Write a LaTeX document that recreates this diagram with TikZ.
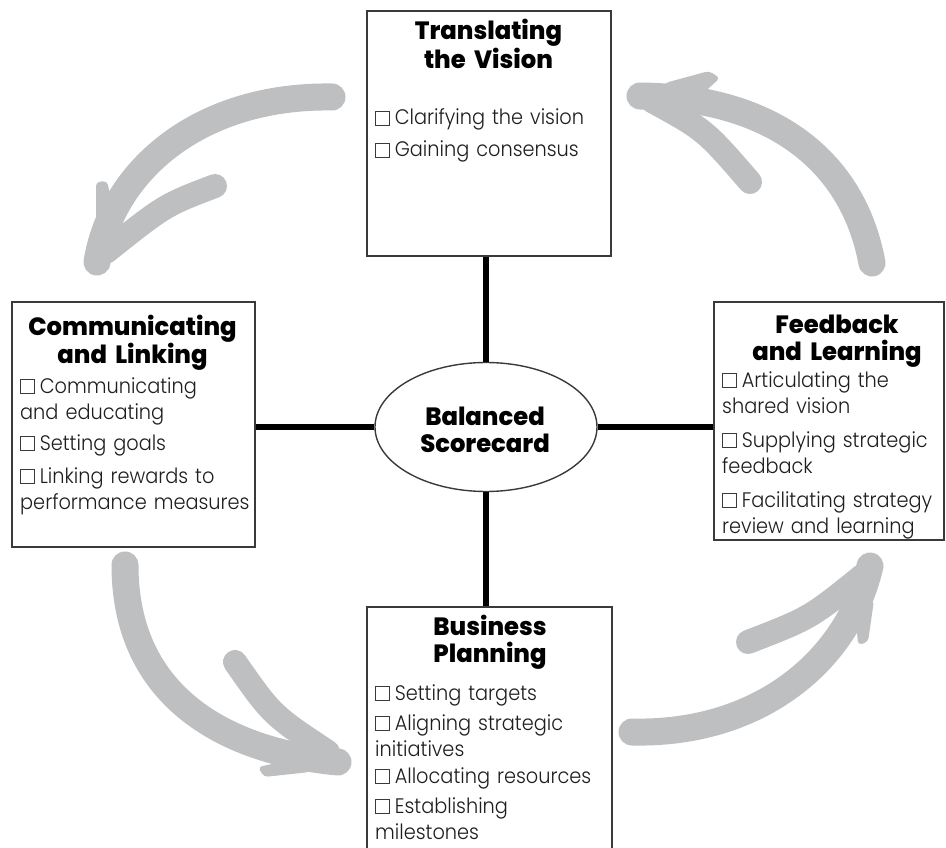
\documentclass[tikz,border=0pt]{standalone}
\usepackage{fontspec}
\usetikzlibrary{shapes.geometric}
\newfontfamily\bodyfont{Poppins Light}[FakeStretch=0.92]
\newfontfamily\headfont{Poppins}[BoldFont={Poppins ExtraBold}, FakeStretch=0.97]
\definecolor{arrowgray}{HTML}{BEBFC1}
\definecolor{framegray}{HTML}{3A3A3A}
\definecolor{inkgray}{HTML}{1E1E1E}
% small open square used as a bullet
\newcommand\tick{\textcolor{framegray}{\setlength\fboxsep{0pt}\setlength\fboxrule{0.8pt}\fbox{\rule{0pt}{13pt}\hspace{13pt}}}\hspace{5pt}}
% keep words whole inside the item texts
\newcommand\nohyph{\hyphenpenalty=10000\relax\exhyphenpenalty=10000\relax}
\begin{document}
\begin{tikzpicture}[x=1pt,y=-1pt,
  frame/.style={draw=framegray, line width=1.4pt, fill=white, rectangle, inner sep=0pt},
  hubshape/.style={draw=framegray, line width=1.4pt, fill=white, ellipse, inner sep=0pt,
                   minimum width=222pt, minimum height=129pt},
  link/.style={line width=6.5pt, draw=black},
  head/.style={font=\headfont\bfseries\fontsize{25}{27}\selectfont, text width=#1,
               align=center, inner sep=0pt, anchor=base},
  item/.style={font=\bodyfont\fontsize{21}{26.5}\selectfont\nohyph,
               text width=#1, align=left, inner sep=0pt, anchor=base west, text=inkgray},
  sweep/.style={draw=arrowgray, line width=27pt, line cap=round},
  barb/.style={draw=arrowgray, line width=24pt, line cap=round},
  spike/.style={fill=arrowgray, rounded corners=4pt},
]
\useasboundingbox (0,0) rectangle (946,848);

% ---- grey cycle arrows ----
% top left
\draw[sweep] (332,97) .. controls (200,95) and (112,170) .. (97,262);
\draw[barb] (215,186) .. controls (165,205) .. (106,252);
\fill[spike] (96,182) -- (107,181) -- (116,220) -- (96,240) -- cycle;
% top right
\draw[sweep] (872,263) .. controls (852,155) and (765,97) .. (640,96);
\draw[barb] (750,182) .. controls (705,130) .. (652,101);
\fill[spike] (709,71) -- (720,78) -- (700,96) -- (660,92) -- (665,83) -- cycle;
% bottom left
\draw[sweep] (125,565) .. controls (125,700) and (230,752) .. (338,762);
\draw[barb] (235,662) .. controls (272,715) .. (328,752);
\fill[spike] (258,767) -- (264,777) -- (310,772) -- (300,758) -- cycle;
% bottom right
\draw[sweep] (632,732) .. controls (760,735) and (848,660) .. (870,566);
\draw[barb] (748,642) .. controls (810,618) .. (862,576);
\fill[spike] (858,645) -- (868,642) -- (874,600) -- (855,605) -- cycle;

% ---- boxes ----
\node[frame, minimum width=244pt, minimum height=245pt] (vision) at (489,133.5) {};
\node[frame, minimum width=243pt, minimum height=245pt] (linking) at (133.5,424.5) {};
\node[frame, minimum width=230pt, minimum height=238pt] (learning) at (829,421) {};
\node[frame, minimum width=245pt, minimum height=263pt] (planning) at (489.5,738.5) {};
\node[hubshape] (hub) at (486,427) {};

% ---- spokes ----
\draw[link] (hub.north) -- (hub.north |- vision.south);
\draw[link] (hub.south) -- (hub.south |- planning.north);
\draw[link] (hub.west) -- (hub.west -| linking.east);
\draw[link] (hub.east) -- (hub.east -| learning.west);

% ---- headings ----
\node[head=230pt] (hubtitle) at (485,425) {Balanced\\Scorecard};
\node[head=240pt] (visiontitle) at (488.5,40) {Translating\\the Vision};
\node[head=240pt] (linkingtitle) at (132.5,335) {Communicating\\and Linking};
\node[head=228pt] (learningtitle) at (837,333) {Feedback\\and Learning};
\node[head=240pt] (planningtitle) at (490,635) {Business\\Planning};

% ---- items ----
\node[item=235pt] (tv1) at (375,125) {\tick Clarifying the vision};
\node[item=235pt] (tv2) at (375,157) {\tick Gaining consensus};

\node[item=232pt] (cl1) at (20,393) {\tick Communicating\\and educating};
\node[item=232pt] (cl2) at (20,450) {\tick Setting goals};
\node[item=232pt] (cl3) at (20,483) {\tick Linking rewards to\\performance measures};

\node[item=222pt] (fl1) at (722,387) {\tick Articulating the\\shared vision};
\node[item=222pt] (fl2) at (722,447) {\tick Supplying strategic\\feedback};
\node[item=222pt] (fl3) at (722,507) {\tick Facilitating strategy\\review and learning};

\node[item=235pt] (bp1) at (375,700) {\tick Setting targets};
\node[item=235pt] (bp2) at (375,730) {\tick Aligning strategic\\initiatives};
\node[item=235pt] (bp3) at (375,783) {\tick Allocating resources};
\node[item=235pt] (bp4) at (375,813) {\tick Establishing\\milestones};
\end{tikzpicture}
\end{document}
